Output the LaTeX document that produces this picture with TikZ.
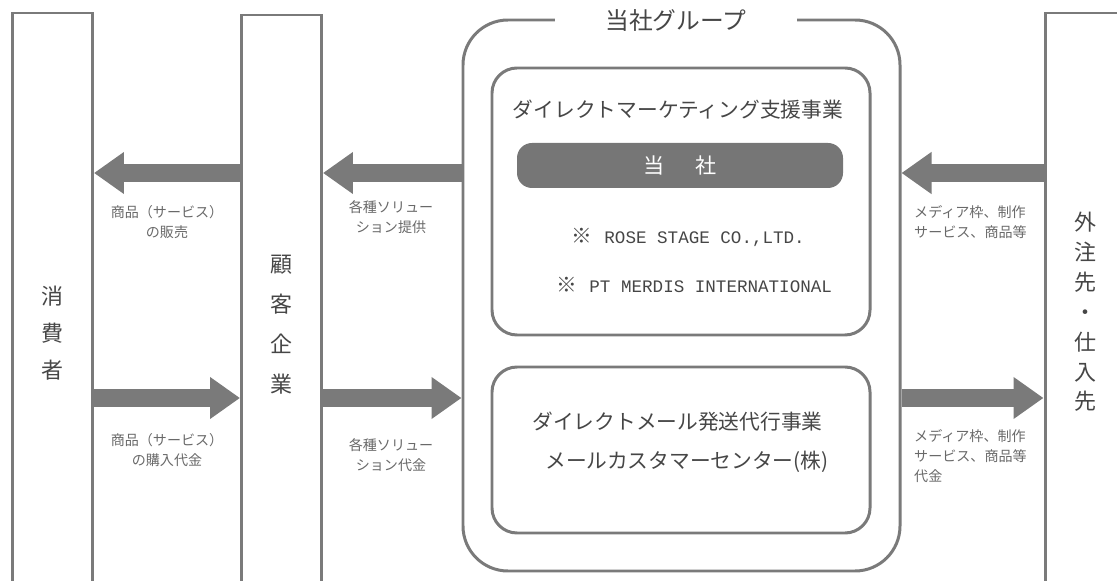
\documentclass[tikz,border=0pt]{standalone}
\usepackage{fontspec}
\setmainfont{Noto Sans CJK JP}
\newfontfamily\latinmono{Liberation Mono}
\usepackage{tikz}
\usetikzlibrary{arrows.meta}

\definecolor{linegray}{RGB}{122,122,122}
\definecolor{bargray}{RGB}{118,118,118}
\definecolor{textgray}{RGB}{70,70,70}
\definecolor{notegray}{RGB}{105,105,105}

\tikzset{
	sidebox/.style={draw=linegray, line width=1.7pt, minimum width=1.6cm, text=textgray,
		align=center, font=\fontsize{12.5}{21}\selectfont},
	unitbox/.style={draw=linegray, line width=1.7pt, rounded corners=0.5cm, minimum width=7.56cm},
	flow/.style={draw=linegray, line width=0.36cm, -{Triangle[length=0.6cm,width=0.8cm]}},
	note/.style={text=notegray, align=center, font=\fontsize{8}{11.4}\selectfont},
	biz/.style={text=textgray, font=\fontsize{11.8}{14}\selectfont},
}

\begin{document}
\begin{tikzpicture}
		\useasboundingbox (0,0) rectangle (22.34,11.6);

		% customers, clients, suppliers
		\node[sidebox, minimum height=12.8cm] (shohi) at (1.05,4.94) {消\\費\\者};
		\node[sidebox, minimum height=12.4cm, font=\fontsize{12.5}{22.7}\selectfont] (kokyaku) at (5.63,5.1) {顧\\客\\企\\業};
		\node[sidebox, minimum height=11.96cm, font=\fontsize{12.5}{17}\selectfont] (gaichu) at (21.7,5.36) {外\\注\\先\\・\\仕\\入\\先};

		% group frame
		\node[draw=linegray, line width=1.7pt, rounded corners=0.9cm, minimum width=8.74cm, minimum height=11.02cm] (group) at (13.63,5.69) {};
		\node[fill=white, minimum width=4.84cm, text=textgray, font=\fontsize{13.5}{16}\selectfont] (title) at (13.52,11.18) {当社グループ};

		% direct marketing support
		\node[unitbox, minimum height=5.34cm] (dmsupport) at (13.62,7.57) {};
		\node[biz] (dmtitle) at (13.56,9.4) {ダイレクトマーケティング支援事業};
		\node[fill=bargray, rounded corners=0.3cm, minimum width=6.52cm, minimum height=0.9cm,
			text=white, font=\fontsize{12}{14}\selectfont] (tosha) at (13.6,8.29) {当\hspace{0.62cm}社};
		\node[biz, anchor=west] (rose) at (11.3,6.86) {※\hspace{0.25cm}{\latinmono\fontsize{10}{12}\selectfont ROSE STAGE CO.,LTD.}};
		\node[biz, anchor=west] (merdis) at (11.0,5.9) {※\hspace{0.25cm}{\latinmono\fontsize{10}{12}\selectfont PT MERDIS INTERNATIONAL}};

		% direct mail
		\node[unitbox, minimum height=3.32cm] (dmail) at (13.62,2.6) {};
		\node[biz] (dmtitle2) at (13.55,3.16) {ダイレクトメール発送代行事業};
		\node[biz] (mcc) at (13.74,2.36) {メールカスタマーセンター(株)};

		% arrows
		\coordinate (upper) at (0,8.14);
		\coordinate (lower) at (0,3.64);
		\draw[flow] (kokyaku.west |- upper) -- (shohi.east |- upper);
		\draw[flow] (shohi.east |- lower) -- (kokyaku.west |- lower);
		\draw[flow] (group.west |- upper) -- (kokyaku.east |- upper);
		\draw[flow] (kokyaku.east |- lower) -- (group.west |- lower);
		\draw[flow] (gaichu.west |- upper) -- (group.east |- upper);
		\draw[flow] (group.east |- lower) -- (gaichu.west |- lower);

		% arrow labels
		\node[note] (sale) at (3.34,7.16) {商品（サービス）\\の販売};
		\node[note] (purchase) at (3.34,2.6) {商品（サービス）\\の購入代金};
		\node[note] (provide) at (7.82,7.26) {各種ソリュー\\ション提供};
		\node[note] (fee) at (7.82,2.5) {各種ソリュー\\ション代金};
		\node[note, align=left, anchor=west] (media) at (18.16,7.16) {メディア枠、制作\\サービス、商品等};
		\node[note, align=left, anchor=west] (mediafee) at (18.16,2.48) {メディア枠、制作\\サービス、商品等\\代金};
	\end{tikzpicture}
\end{document}
